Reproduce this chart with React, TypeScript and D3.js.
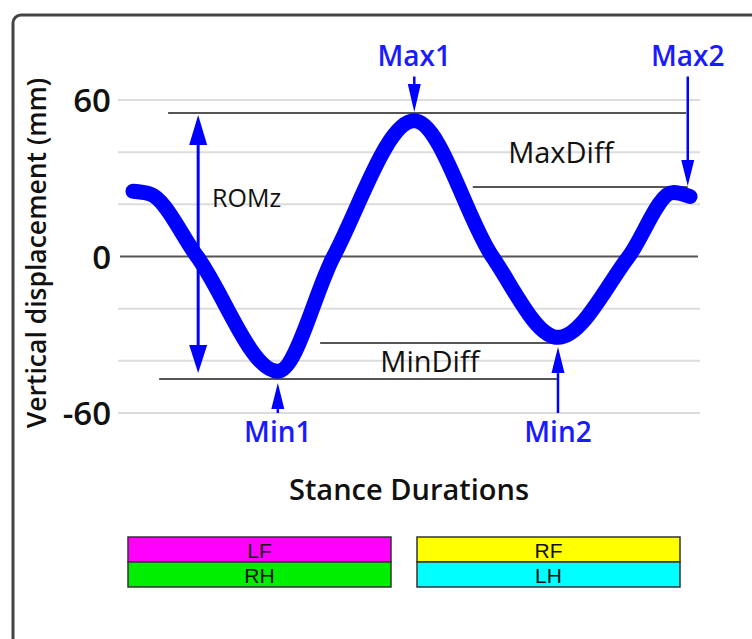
import React from "react";
import * as d3 from "d3";

// stance duration (%) and vertical displacement (mm) of the curve
const stance = [0, 3, 11.5, 26, 36, 50.5, 64.5, 76.3, 89, 97, 100];
const displacement = [25, 24, 0, -44, 0, 52, 0, -31, 0, 24.5, 23];

const yTicks = [60, 0, -60];
const gridTicks = [60, 40, 20, -20, -40, -60];

// extrema markers: label, stance position, reference level
const extremaLabels = ["Max1", "Max2", "Min1", "Min2"];
const extremaX = [50.5, 99.6, 26, 76.3];
const extremaLevel = [55, 26.6, -47, -33.2];

// reference lines: [level, from %, to %]
const refLines = [
  [55, 6.3, 99.3],
  [26.6, 61, 99.6],
  [-47, 4.7, 76.1],
  [-33.2, 33.6, 76.1],
];

const legendLeft = ["LF", "RH"];
const legendRight = ["RF", "LH"];
const legendLeftColors = ["#ff00ff", "#00ee00"];
const legendRightColors = ["#ffff00", "#00ffff"];

const W = 752;
const H = 639;
const BLUE = "#0000ff";
const LABEL_BLUE = "#1a1aff";
const FONT = "'Open Sans', 'Noto Sans', sans-serif";

const x = d3.scaleLinear().domain([0, 100]).range([133, 690]);
const y = d3.scaleLinear().domain([-60, 60]).range([413, 100]);

const line = d3
  .line<number>()
  .x((_, i) => x(stance[i]))
  .y((d) => y(d))
  .curve(d3.curveMonotoneX);

// vertical arrow: tip at (cx, tipY), tail at tailY
const Arrow = ({ cx, tipY, tailY, head = 26, hw = 6.5, sw = 2.5 }: any) => {
  const dir = tailY < tipY ? 1 : -1; // 1 = pointing down
  const baseY = tipY - dir * head;
  return (
    <g fill={BLUE} stroke="none">
      <line x1={cx} x2={cx} y1={tailY} y2={baseY} stroke={BLUE} strokeWidth={sw} />
      <path d={`M${cx},${tipY} L${cx - hw},${baseY} L${cx + hw},${baseY} Z`} />
    </g>
  );
};

const Legend = ({ x0, x1, labels, colors }: any) => {
  const top = 537;
  const rowH = 25;
  return (
    <g>
      {labels.map((l: string, i: number) => (
        <g key={l}>
          <rect x={x0} y={top + i * rowH} width={x1 - x0} height={rowH} fill={colors[i]} stroke="#333" strokeWidth={1.5} />
          <text
            x={(x0 + x1) / 2}
            y={top + i * rowH + 21}
            textAnchor="middle"
            style={{ fontFamily: "'Liberation Sans', Arial, sans-serif", fontSize: 21, fill: "#111" }}
          >
            {l}
          </text>
        </g>
      ))}
    </g>
  );
};

const App = () => {
  const topLabelY = y(73);
  const topTailY = y(69);
  const botLabelY = y(-71);
  const botTailY = y(-60);

  return (
    <svg width={W} height={H} viewBox={`0 0 ${W} ${H}`} style={{ position: "absolute", left: 0, top: 0, background: "#fff" }}>
      {/* frame */}
      <rect x={13} y={15} width={780} height={660} rx={8} fill="#fff" stroke="#444" strokeWidth={3} />

      {/* grid */}
      {gridTicks.map((t) => (
        <line key={t} x1={118} x2={700} y1={y(t)} y2={y(t)} stroke="#dcdcdc" strokeWidth={2} />
      ))}
      <line x1={120} x2={698} y1={y(0)} y2={y(0)} stroke="#555" strokeWidth={2} />

      {/* y ticks */}
      {yTicks.map((t) => (
        <text
          key={t}
          x={111}
          y={y(t) + 12}
          textAnchor="end"
          style={{ fontFamily: FONT, fontSize: 33, fontWeight: 600, fill: "#111" }}
        >
          {t}
        </text>
      ))}

      {/* y label */}
      <text
        transform={`translate(46, 253) rotate(-90)`}
        textAnchor="middle"
        style={{ fontFamily: FONT, fontSize: 26.5, fontWeight: 600, fill: "#111" }}
      >
        Vertical displacement (mm)
      </text>

      {/* reference lines */}
      {refLines.map(([lv, a, b], i) => (
        <line key={i} x1={x(a)} x2={x(b)} y1={y(lv)} y2={y(lv)} stroke="#555" strokeWidth={2} />
      ))}

      {/* curve */}
      <path d={line(displacement) || ""} fill="none" stroke={BLUE} strokeWidth={15} strokeLinecap="round" />

      {/* ROMz */}
      <Arrow cx={x(11.7)} tipY={y(extremaLevel[0]) + 2} tailY={y(0)} head={30} hw={9} sw={3} />
      <Arrow cx={x(11.7)} tipY={y(extremaLevel[2]) - 6} tailY={y(0)} head={28} hw={9} sw={3} />
      <text x={x(14.2)} y={y(19)} style={{ fontFamily: FONT, fontSize: 25, fill: "#111" }}>
        ROMz
      </text>
      <text x={x(76.8)} y={y(36)} textAnchor="middle" style={{ fontFamily: FONT, fontSize: 29, fill: "#111" }}>
        MaxDiff
      </text>
      <text x={x(53.3)} y={y(-44.3)} textAnchor="middle" style={{ fontFamily: FONT, fontSize: 29, fill: "#111" }}>
        MinDiff
      </text>

      {/* extrema markers */}
      {extremaLabels.map((lab, i) => {
        const isMax = lab.startsWith("Max");
        const cx = x(extremaX[i]);
        const tip = y(extremaLevel[i]) + (isMax ? -1 : 4);
        return (
          <g key={lab}>
            <Arrow cx={cx} tipY={tip} tailY={isMax ? topTailY : botTailY} head={isMax && i === 0 ? 28 : 26} hw={6.5} />
            <text
              x={cx}
              y={isMax ? topLabelY : botLabelY}
              textAnchor="middle"
              style={{ fontFamily: FONT, fontSize: 28, fontWeight: 600, fill: LABEL_BLUE }}
            >
              {lab}
            </text>
          </g>
        );
      })}

      {/* x title */}
      <text x={409} y={500} textAnchor="middle" style={{ fontFamily: FONT, fontSize: 29, fontWeight: 600, fill: "#111" }}>
        Stance Durations
      </text>

      {/* legend */}
      <Legend x0={128} x1={391} labels={legendLeft} colors={legendLeftColors} />
      <Legend x0={417} x1={680} labels={legendRight} colors={legendRightColors} />
    </svg>
  );
};

export default App;
